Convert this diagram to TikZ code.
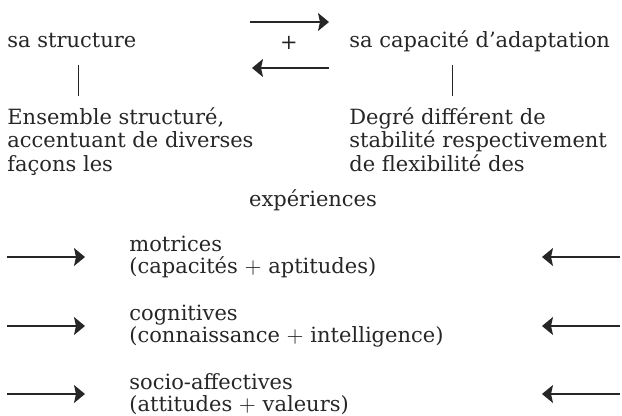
\documentclass[tikz,border=0pt]{standalone}
\usepackage{fontspec}
\setmainfont{DejaVu Serif}
\usetikzlibrary{arrows.meta,positioning}
\begin{document}
\begin{tikzpicture}[x=0.5pt,y=-0.5pt,
    every node/.style={inner sep=0pt, text=black!85},
    txt/.style={anchor=base west, font=\fontsize{10.5}{11.75}\selectfont},
    block/.style={anchor=north west, align=left, font=\fontsize{10.5}{11.75}\selectfont},
    row/.style={anchor=west, align=left, font=\fontsize{10.5}{11}\selectfont},
    flow/.style={-{Stealth[length=5.5pt,width=9pt,inset=1pt]}, line width=0.6pt, black!85},
    link/.style={line width=0.5pt, black!85}]
    \useasboundingbox (0,0) rectangle (622,416);

    % Structure and adaptation
    \node[txt] (struct) at (7,48) {sa structure};
    \node[txt] (capa) at (349,48) {sa capacité d'adaptation};
    \node[font=\fontsize{10.5}{11}\selectfont] (plus) at (289,43) {+};

    % Exchange arrows
    \draw[flow] ([shift={(-39,-21)}]plus.center) -- ([shift={(40,-21)}]plus.center);
    \draw[flow] ([shift={(40,25)}]plus.center) -- ([shift={(-37,25)}]plus.center);

    % Explanations
    \node[block] (ens) at (7,107) {Ensemble structuré,\\accentuant de diverses\\façons les};
    \node[block] (degre) at (349,107) {Degré différent de\\stabilité respectivement\\de flexibilité des};

    % Ties
    \coordinate (lcut) at (78,0);
    \coordinate (rcut) at (452,0);
    \draw[link] (lcut |- struct.south) ++(0,16) -- ++(0,31);
    \draw[link] (rcut |- struct.south) ++(0,16) -- ++(0,31);

    % Experiences
    \node[txt, anchor=base] (exp) at (313,207) {expériences};

    % Kinds of experiences
    \node[row] (mot) at (129,257) {motrices\\(capacités $+$ aptitudes)};
    \node[row] (cog) at (129,326) {cognitives\\(connaissance $+$ intelligence)};
    \node[row] (soc) at (129,394) {socio-affectives\\(attitudes $+$ valeurs)};

    % Side arrows
    \coordinate (ltail) at (7,0);
    \coordinate (ltip) at (85,0);
    \coordinate (rtip) at (542,0);
    \coordinate (rtail) at (620,0);
    \draw[flow] (ltail |- mot.west) -- (ltip |- mot.west);
    \draw[flow] (rtail |- mot.west) -- (rtip |- mot.west);
    \draw[flow] (ltail |- cog.west) -- (ltip |- cog.west);
    \draw[flow] (rtail |- cog.west) -- (rtip |- cog.west);
    \draw[flow] (ltail |- soc.west) -- (ltip |- soc.west);
    \draw[flow] (rtail |- soc.west) -- (rtip |- soc.west);
\end{tikzpicture}
\end{document}
